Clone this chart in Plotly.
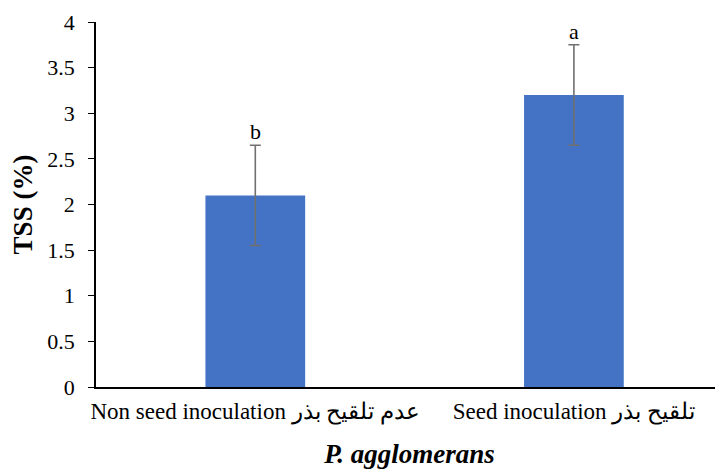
import plotly.graph_objects as go

categories = ["Non seed inoculation عدم تلقیح بذر", "Seed inoculation تلقیح بذر"]
tss_values = [2.1, 3.2]
tss_errors = [0.55, 0.55]
letters = ["b", "a"]
y_ticks = [0, 0.5, 1, 1.5, 2, 2.5, 3, 3.5, 4]
y_tick_labels = ["0", "0.5", "1", "1.5", "2", "2.5", "3", "3.5", "4"]

xpos = list(range(len(categories)))
FONT = "Liberation Serif"

fig = go.Figure()
fig.add_trace(go.Bar(
    x=xpos, y=tss_values, width=0.313,
    marker=dict(color="#4472C4", line=dict(width=0)),
    error_y=dict(type="data", array=tss_errors, visible=True,
                 color="#707070", thickness=1.6, width=5.5),
    showlegend=False,
))

for xi, v, e, l in zip(xpos, tss_values, tss_errors, letters):
    fig.add_annotation(x=xi, y=v + e, text=l, showarrow=False,
                       yanchor="bottom", yshift=-1,
                       font=dict(family=FONT, size=22, color="black"))

# page body has an 8px default margin; size the figure so the plot lands where the reference has it
fig.update_layout(
    width=715, height=466,
    margin=dict(l=88, r=0, t=14, b=87),
    plot_bgcolor="white", paper_bgcolor="white",
    font=dict(family=FONT, size=22, color="black"),
    xaxis=dict(
        range=[-0.5, 1.468], tickvals=xpos, ticktext=categories,
        showline=True, linecolor="black", linewidth=1.5,
        ticks="", showgrid=False, zeroline=False,
        tickfont=dict(family=FONT, size=23), ticklabelstandoff=3,
        title=dict(text="<b><i>P. agglomerans</i></b>",
                   font=dict(family=FONT, size=27), standoff=20),
    ),
    yaxis=dict(
        range=[0, 4], tickvals=y_ticks, ticktext=y_tick_labels,
        showline=True, linecolor="black", linewidth=1.5,
        ticks="outside", ticklen=6, tickcolor="black", tickwidth=1.2,
        showgrid=False, zeroline=False,
        tickfont=dict(family=FONT, size=22), ticklabelstandoff=9,
        title=dict(text="<b>TSS (%)</b>", font=dict(family=FONT, size=27),
                   standoff=7),
    ),
)

fig.write_html("out.html")
